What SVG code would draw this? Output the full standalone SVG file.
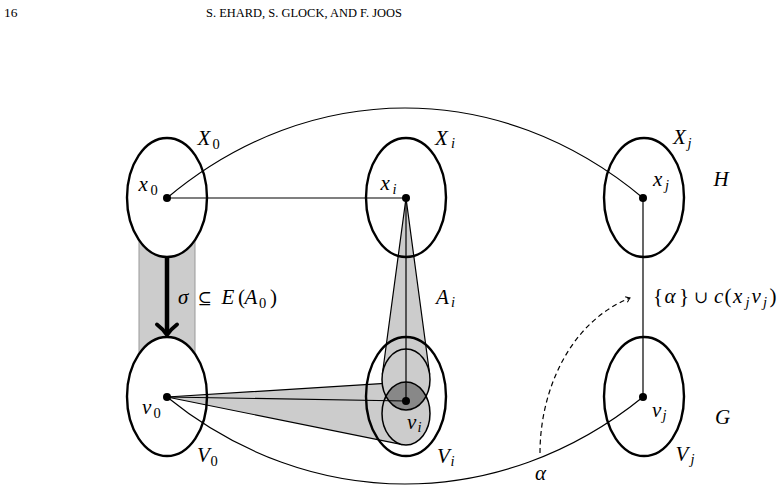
<svg xmlns="http://www.w3.org/2000/svg" width="783" height="493" viewBox="0 0 783 493">
  <style>
    .head { font-family: "Liberation Serif", "DejaVu Serif", serif; font-size: 13.5px; fill: #000; }
    .m { font-family: "Liberation Serif", "DejaVu Serif", serif; font-style: italic; font-size: 21px; fill: #000; }
    .r { font-style: normal; }
    .sub { font-size: 14.5px; }
    .op { font-family: "DejaVu Serif", serif; font-style: normal; font-size: 17px; }
    .set { fill: none; stroke: #000; stroke-width: 2.4; }
    .nbhd { fill: #cccccc; stroke: #000; stroke-width: 1.2; }
    .ring { fill: none; stroke: #000; stroke-width: 1.5; }
    .edge { fill: none; stroke: #000; stroke-width: 1.2; }
    .dot { fill: #000; }
  </style>
  <defs>
    <mask id="bandMask">
      <rect x="0" y="0" width="783" height="493" fill="#fff"/>
      <ellipse cx="167" cy="197.5" rx="40" ry="59.5" fill="#000"/>
      <ellipse cx="167" cy="396.5" rx="40" ry="59.5" fill="#000"/>
    </mask>
    <clipPath id="upperClip">
      <ellipse cx="406" cy="379.5" rx="24" ry="30.5"/>
    </clipPath>
    <marker id="tip" markerWidth="10" markerHeight="10" viewBox="-6 -5 8 10" refX="0" refY="0" orient="auto" markerUnits="userSpaceOnUse">
      <path d="M-4,-3 Q-1.5,-0.8 0,0 Q-1.5,0.8 -4,3" fill="none" stroke="#000" stroke-width="1"/>
    </marker>
  </defs>

  <rect width="783" height="493" fill="#fff"/>

  <!-- running head -->
  <text class="head" x="4" y="17">16</text>
  <text class="head" x="206" y="17" textLength="196" lengthAdjust="spacingAndGlyphs">S. EHARD, S. GLOCK, AND F. JOOS</text>

  <!-- shaded strip carrying sigma from X_0 to V_0 -->
  <g id="band" mask="url(#bandMask)">
    <rect x="139" y="200" width="56" height="196" fill="#cccccc" stroke="#999" stroke-width="1"/>
  </g>

  <!-- absorber A_i: cones from x_i and v_0 into V_i -->
  <g id="absorber">
    <path class="nbhd" d="M404.85,382.04 L167,397 L402.34,444.63"/>
    <path class="nbhd" d="M382.3,374.5 L406,198 L429.7,374.5"/>
    <ellipse cx="406" cy="379.5" rx="24" ry="30.5" fill="#cccccc"/>
    <ellipse cx="406" cy="413.5" rx="24" ry="31.5" fill="#cccccc"/>
    <ellipse cx="406" cy="413.5" rx="24" ry="31.5" fill="#888888" clip-path="url(#upperClip)"/>
    <ellipse class="ring" cx="406" cy="379.5" rx="24" ry="30.5"/>
    <ellipse class="ring" cx="406" cy="413.5" rx="24" ry="31.5"/>
  </g>

  <!-- edges and paths -->
  <g id="connectors">
    <path class="edge" d="M167,198 C310,78 500,78 643,198"/>
    <path class="edge" d="M167,397 C310,513 500,513 643,397"/>
    <line class="edge" x1="167" y1="198" x2="406" y2="198"/>
    <line class="edge" x1="406" y1="198" x2="406" y2="401"/>
    <line class="edge" x1="167" y1="397" x2="406" y2="401"/>
    <line class="edge" x1="643" y1="198" x2="643" y2="397"/>
    <line x1="167" y1="257" x2="167" y2="333" stroke="#000" stroke-width="4.5"/>
    <path d="M157,324.5 Q163,329 167,335 Q171,329 177,324.5" fill="none" stroke="#000" stroke-width="4" stroke-linecap="round" stroke-linejoin="round"/>
    <path class="edge" d="M540,453 C540,390 570,322 630,298" stroke-dasharray="5 3.5" marker-end="url(#tip)"/>
  </g>

  <g id="X0">
    <ellipse class="set" cx="167" cy="197.5" rx="40" ry="59.5"/>
    <circle class="dot" cx="167" cy="198" r="4"/>
    <text class="m" x="197.5" y="144.5">X<tspan class="sub r" x="212.5" y="148.5">0</tspan></text>
    <text class="m" x="138.5" y="191">x<tspan class="sub r" x="150.5" y="195">0</tspan></text>
  </g>
  <g id="Xi">
    <ellipse class="set" cx="406" cy="197.5" rx="40" ry="59.5"/>
    <circle class="dot" cx="406" cy="198" r="4"/>
    <text class="m" x="435" y="144.5">X<tspan class="sub" x="451" y="148">i</tspan></text>
    <text class="m" x="380.5" y="190">x<tspan class="sub" x="392.5" y="193.5">i</tspan></text>
  </g>
  <g id="Xj">
    <ellipse class="set" cx="644" cy="197.5" rx="40" ry="59.5"/>
    <circle class="dot" cx="643" cy="198" r="4"/>
    <text class="m" x="673" y="144">X<tspan class="sub" x="687.5" y="147.5">j</tspan></text>
    <text class="m" x="653" y="186">x<tspan class="sub" x="665" y="189.5">j</tspan></text>
  </g>
  <g id="V0">
    <ellipse class="set" cx="167" cy="396.5" rx="40" ry="59.5"/>
    <circle class="dot" cx="167" cy="397" r="4"/>
    <text class="m" x="197" y="462">V<tspan class="sub r" x="210.5" y="466">0</tspan></text>
    <text class="m" x="142" y="414">v<tspan class="sub r" x="153.5" y="418">0</tspan></text>
  </g>
  <g id="Vi">
    <ellipse class="set" cx="406" cy="396.5" rx="40" ry="59.5"/>
    <circle class="dot" cx="406" cy="401" r="4"/>
    <text class="m" x="437" y="462.5">V<tspan class="sub" x="450.5" y="466">i</tspan></text>
    <text class="m" x="407" y="428.5">v<tspan class="sub" x="417.5" y="432">i</tspan></text>
  </g>
  <g id="Vj">
    <ellipse class="set" cx="644" cy="396.5" rx="40" ry="59.5"/>
    <circle class="dot" cx="643" cy="397" r="4"/>
    <text class="m" x="675.5" y="460.5">V<tspan class="sub" x="690.5" y="464">j</tspan></text>
    <text class="m" x="652" y="416.5">v<tspan class="sub" x="662.5" y="420">j</tspan></text>
  </g>

  <!-- edge and graph labels -->
  <g id="labels">
    <text class="m" x="436" y="303.5">A<tspan class="sub" x="451" y="307">i</tspan></text>
    <text class="m" x="713.5" y="185.5">H</text>
    <text class="m" x="715" y="424">G</text>
    <text class="m" x="535" y="480">α</text>
    <text class="m" x="178" y="304">σ<tspan class="op" x="197.5">⊆</tspan><tspan x="221.5">E</tspan><tspan class="r" x="238">(</tspan><tspan x="244.5">A</tspan><tspan class="sub r" x="259" y="308">0</tspan><tspan class="r" x="270" y="304">)</tspan></text>
    <text class="m" x="653" y="303"><tspan class="r">{</tspan><tspan x="664.5">α</tspan><tspan class="r" x="679">}</tspan><tspan class="op" x="694">∪</tspan><tspan x="714">c</tspan><tspan class="r" x="724.5">(</tspan><tspan x="733">x</tspan><tspan class="sub" x="745.5" y="306.5">j</tspan><tspan x="751.5" y="303">v</tspan><tspan class="sub" x="763" y="306.5">j</tspan><tspan class="r" x="769.5" y="303">)</tspan></text>
  </g>
</svg>
